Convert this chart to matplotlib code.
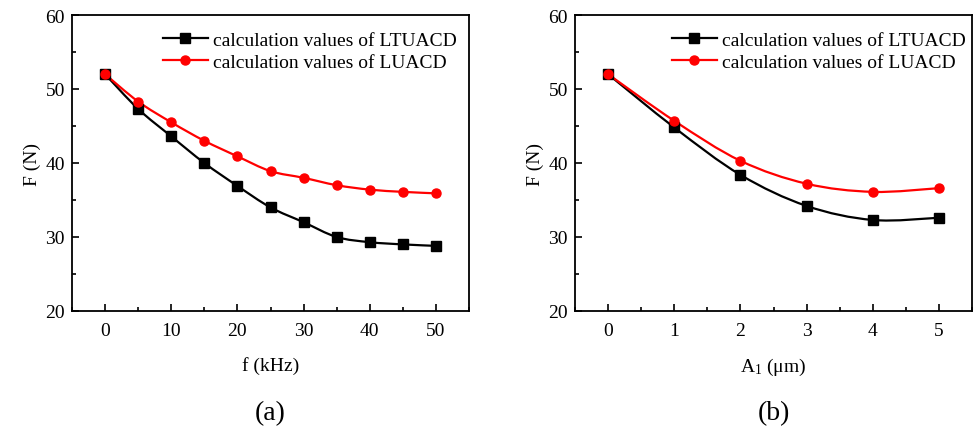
import numpy as np
import matplotlib.pyplot as plt
from matplotlib.path import Path
from matplotlib.patches import PathPatch
from matplotlib.ticker import MultipleLocator

plt.rcParams['font.family'] = ['Liberation Serif', 'DejaVu Serif']
plt.rcParams['mathtext.fontset'] = 'custom'
plt.rcParams['mathtext.rm'] = 'Liberation Serif'
plt.rcParams['mathtext.it'] = 'Liberation Serif'

# (a) force vs frequency
freq = [0, 5, 10, 15, 20, 25, 30, 35, 40, 45, 50]
f_ltuacd_a = [52.0, 47.3, 43.6, 40.0, 36.9, 34.0, 32.0, 30.0, 29.3, 29.0, 28.8]
f_luacd_a = [52.0, 48.3, 45.5, 43.0, 40.9, 38.9, 38.0, 37.0, 36.4, 36.1, 35.9]

# (b) force vs amplitude
amp = [0, 1, 2, 3, 4, 5]
f_ltuacd_b = [52.0, 44.8, 38.4, 34.2, 32.3, 32.6]
f_luacd_b = [52.0, 45.7, 40.3, 37.2, 36.1, 36.6]

label_lt = 'calculation values of LTUACD'
label_lu = 'calculation values of LUACD'


def smooth_path(x, y):
    # Catmull-Rom style bezier through the points, rendered by matplotlib
    x = np.asarray(x, float)
    y = np.asarray(y, float)
    verts = [(x[0], y[0])]
    codes = [Path.MOVETO]
    n = len(x)
    for i in range(n - 1):
        x0, y0 = (x[i - 1], y[i - 1]) if i > 0 else (x[i], y[i])
        x3, y3 = (x[i + 2], y[i + 2]) if i + 2 < n else (x[i + 1], y[i + 1])
        c1 = (x[i] + (x[i + 1] - x0) / 6, y[i] + (y[i + 1] - y0) / 6)
        c2 = (x[i + 1] - (x3 - x[i]) / 6, y[i + 1] - (y3 - y[i]) / 6)
        verts += [c1, c2, (x[i + 1], y[i + 1])]
        codes += [Path.CURVE4] * 3
    return Path(verts, codes)


def panel(ax, x, y1, y2, xlim, major, minor, xlabel, tag, leg_x):
    for y, col in [(y1, 'black'), (y2, 'red')]:
        ax.add_patch(PathPatch(smooth_path(x, y), facecolor='none',
                               edgecolor=col, lw=1.6, zorder=2))
    ax.plot(x, y1, ls='none', marker='s', color='black', ms=6.5, zorder=3)
    ax.plot(x, y2, ls='none', marker='o', color='red', ms=6.5, zorder=3)
    # legend proxies
    ax.plot([], [], color='black', marker='s', ms=6.5, lw=1.6, label=label_lt)
    ax.plot([], [], color='red', marker='o', ms=6.5, lw=1.6, label=label_lu)
    ax.set_xlim(*xlim)
    ax.set_ylim(20, 60)
    ax.xaxis.set_major_locator(MultipleLocator(major))
    ax.xaxis.set_minor_locator(MultipleLocator(minor))
    ax.yaxis.set_major_locator(MultipleLocator(10))
    ax.yaxis.set_minor_locator(MultipleLocator(5))
    ax.tick_params(which='both', direction='in', top=False, right=False,
                   labelsize=14, width=1.2)
    ax.tick_params(which='major', length=5)
    ax.tick_params(which='minor', length=3)
    ax.tick_params(axis='x', pad=8)
    ax.tick_params(axis='y', pad=5)
    for s in ax.spines.values():
        s.set_linewidth(1.3)
    ax.set_xlabel(xlabel, fontsize=14, labelpad=12)
    ax.set_ylabel('F (N)', fontsize=14, labelpad=3)
    ax.legend(loc='upper right', bbox_to_anchor=(leg_x, 0.965), frameon=False,
              fontsize=14, handlelength=2.3, handletextpad=0.3,
              labelspacing=0.25, borderaxespad=0.1, borderpad=0.2)
    ax.text(0.5, -0.30, tag, transform=ax.transAxes, ha='center', va='top',
            fontsize=20)


fig = plt.figure(figsize=(9.76, 4.35), dpi=100)
ax1 = fig.add_axes([72 / 976, 1 - 312 / 435, (469 - 72) / 976, (312 - 16) / 435])
ax2 = fig.add_axes([575 / 976, 1 - 312 / 435, (972 - 575) / 976, (312 - 16) / 435])

panel(ax1, freq, f_ltuacd_a, f_luacd_a, (-5, 55), 10, 5, 'f (kHz)', '(a)', 0.985)
panel(ax2, amp, f_ltuacd_b, f_luacd_b, (-0.5, 5.5), 1, 0.5, 'A$_1$ (μm)', '(b)', 1.0)

fig.savefig('out.png', dpi=100)
